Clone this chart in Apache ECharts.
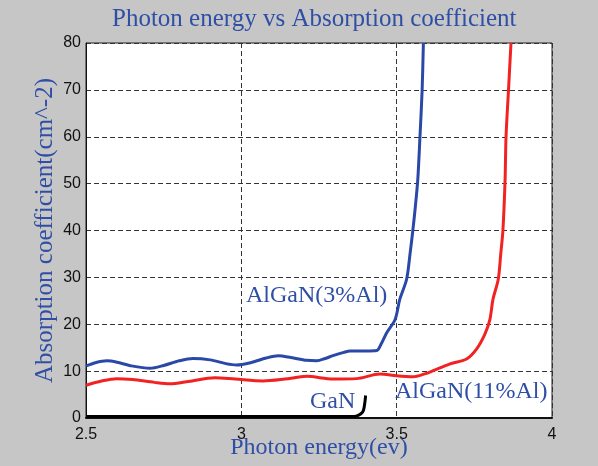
<!DOCTYPE html>
<html>
<head>
<meta charset="utf-8">
<script src="https://cdn.jsdelivr.net/npm/echarts@6/dist/echarts.min.js"></script>
<style>
  html, body { margin: 0; padding: 0; background: #c6c6c6; }
  #chart { width: 598px; height: 466px; }
</style>
</head>
<body>
<div id="chart"></div>
<script>
  // photon energy (eV) and absorption for each sample
  var al3Energy = [2.5, 2.53, 2.567, 2.6, 2.64, 2.706, 2.75, 2.8, 2.844, 2.9, 2.95, 2.985, 3.03, 3.08, 3.119, 3.16, 3.21, 3.243, 3.27, 3.295, 3.33, 3.35, 3.4, 3.436, 3.45, 3.468, 3.495, 3.51, 3.532, 3.543, 3.552, 3.56, 3.568, 3.575, 3.582, 3.586]
  var al3Abs = [11.1, 11.8, 12.2, 11.9, 11.2, 10.6, 11.2, 12.2, 12.7, 12.4, 11.6, 11.3, 11.8, 12.8, 13.3, 12.9, 12.3, 12.2, 12.7, 13.3, 14.0, 14.3, 14.3, 14.4, 15.8, 18.2, 21, 25.3, 29.6, 35, 40, 45, 50.9, 60, 70, 80]

  var al11Energy = [2.5, 2.55, 2.599, 2.65, 2.72, 2.77, 2.83, 2.915, 2.98, 3.07, 3.14, 3.21, 3.295, 3.371, 3.446, 3.5, 3.553, 3.59, 3.618, 3.67, 3.725, 3.757, 3.784, 3.8, 3.81, 3.827, 3.835, 3.842, 3.849, 3.852, 3.86, 3.868]
  var al11Abs = [7.0, 7.9, 8.4, 8.2, 7.6, 7.3, 7.8, 8.6, 8.3, 7.9, 8.3, 8.9, 8.3, 8.4, 9.4, 9.0, 8.8, 9.4, 10.1, 11.5, 12.6, 14.7, 17.9, 21, 25.3, 29.6, 35, 40, 50.9, 60, 70, 80]

  var ganEnergy = [2.5, 3.0, 3.35, 3.37, 3.385, 3.393, 3.398, 3.4]
  var ganAbs = [0.3, 0.3, 0.3, 0.4, 0.9, 1.6, 3.5, 4.8]

  var xTicks = [2.5, 3, 3.5, 4]
  var yTicks = [0, 10, 20, 30, 40, 50, 60, 70, 80]

  function pairs (xs, ys) {
    var out = []
    for (let i = 0; i < xs.length; i++) {
      out.push([xs[i], ys[i]])
    }
    return out
  }

  var blueText = '#2f4fa6'
  var serif = '"Liberation Serif", "Times New Roman", serif'
  var sans = '"Liberation Sans", Arial, sans-serif'
  var dashed = { show: true, lineStyle: { color: '#333', type: [5, 3], width: 1 } }

  var chart = echarts.init(document.getElementById('chart'))
  chart.setOption({
    backgroundColor: '#c6c6c6',
    animation: false,
    title: {
      text: 'Photon energy vs Absorption coefficient',
      left: 107,
      top: 2,
      textStyle: { color: blueText, fontFamily: serif, fontSize: 25, fontWeight: 'normal' }
    },
    grid: {
      left: 86,
      right: 46,
      top: 43,
      bottom: 48,
      containLabel: false,
      outerBoundsMode: 'none',
      show: true,
      backgroundColor: '#fff',
      borderColor: '#222',
      borderWidth: 1
    },
    xAxis: {
      type: 'value',
      min: 2.5,
      max: 4,
      interval: 0.5,
      name: 'Photon energy(ev)',
      nameLocation: 'middle',
      nameGap: 18,
      nameMoveOverlap: false,
      nameTextStyle: { color: blueText, fontFamily: serif, fontSize: 24 },
      axisLine: { show: true, lineStyle: { color: '#111', width: 2 } },
      axisTick: { show: false },
      axisLabel: {
        color: '#111',
        fontFamily: sans,
        fontSize: 16,
        margin: 9,
        formatter: function (v) { return xTicks.indexOf(v) >= 0 ? String(v) : '' }
      },
      splitLine: dashed
    },
    yAxis: {
      type: 'value',
      min: 0,
      max: 80,
      interval: 10,
      name: 'Absorption coefficient(cm^-2)',
      nameLocation: 'middle',
      nameGap: 28,
      nameMoveOverlap: false,
      nameTextStyle: { color: blueText, fontFamily: serif, fontSize: 25 },
      axisLine: { show: true, lineStyle: { color: '#111', width: 1 } },
      axisTick: { show: false },
      axisLabel: {
        color: '#111',
        fontFamily: sans,
        fontSize: 16,
        margin: 5,
        formatter: function (v) { return yTicks.indexOf(v) >= 0 ? String(v) : '' }
      },
      splitLine: dashed
    },
    series: [
      {
        name: 'AlGaN(3%Al)',
        type: 'line',
        showSymbol: false,
        smooth: 0.3,
        data: pairs(al3Energy, al3Abs),
        lineStyle: { color: '#2a48a8', width: 3 },
        z: 3
      },
      {
        name: 'AlGaN(11%Al)',
        type: 'line',
        showSymbol: false,
        smooth: 0.3,
        data: pairs(al11Energy, al11Abs),
        lineStyle: { color: '#f22222', width: 3 },
        z: 2
      },
      {
        name: 'GaN',
        type: 'line',
        showSymbol: false,
        smooth: 0.3,
        data: pairs(ganEnergy, ganAbs),
        lineStyle: { color: '#000', width: 3 },
        z: 4
      }
    ],
    graphic: [
      {
        type: 'text', left: 246, top: 284, z: 10,
        style: { text: 'AlGaN(3%Al)', fill: blueText, font: '24px ' + serif }
      },
      {
        type: 'text', left: 395, top: 380, z: 10,
        style: { text: 'AlGaN(11%Al)', fill: blueText, font: '24px ' + serif }
      },
      {
        type: 'text', left: 310, top: 390, z: 10,
        style: { text: 'GaN', fill: blueText, font: '24px ' + serif }
      }
    ]
  })
</script>
</body>
</html>
